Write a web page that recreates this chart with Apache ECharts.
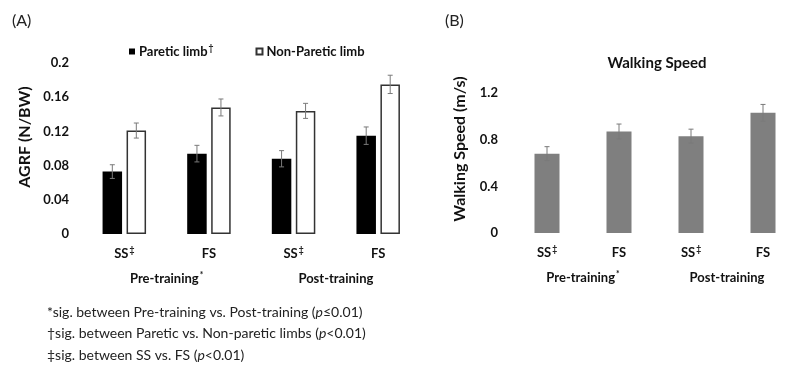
<!DOCTYPE html>
<html>
<head>
<meta charset="utf-8">
<script src="https://cdn.jsdelivr.net/npm/echarts@6/dist/echarts.min.js"></script>
<style>html,body{margin:0;padding:0;background:#fff}#c{width:799px;height:367px}</style>
</head>
<body>
<div id="c"></div>
<script>
// ---- data ----
var categories = ['SS', 'FS', 'SS', 'FS'];
var categoryMarks = ['‡', '', '‡', ''];
var groups = ['Pre-training', 'Post-training'];
var groupMarks = ['*', ''];
var pareticMean = [0.073, 0.094, 0.088, 0.115];
var pareticErr = [0.008, 0.0097, 0.0095, 0.0102];
var nonPareticMean = [0.121, 0.148, 0.144, 0.175];
var nonPareticErr = [0.0088, 0.0099, 0.0088, 0.0107];
var speedMean = [0.68, 0.87, 0.83, 1.03];
var speedErr = [0.06, 0.064, 0.06, 0.072];
var ticksA = [0, 0.04, 0.08, 0.12, 0.16, 0.2];
var ticksB = [0, 0.4, 0.8, 1.2];
var legendNames = ['Paretic limb', 'Non-Paretic limb'];
var legendMarks = ['†', ''];
var footnotes = [
  ['*sig. between Pre-training vs. Post-training (', 'p', '≤0.01)'],
  ['†sig. between Paretic vs. Non-paretic limbs (', 'p', '<0.01)'],
  ['‡sig. between SS vs. FS (', 'p', '<0.01)']
];

var FONT = 'Lato, "Open Sans", sans-serif';
var chart = echarts.init(document.getElementById('c'), null, {renderer: 'canvas'});

var supRich = {
  b: {fontFamily: FONT, fontWeight: 'bold', fontSize: 13, color: '#111', lineHeight: 15},
  s: {fontFamily: FONT, fontWeight: 'bold', fontSize: 8.5, color: '#111', lineHeight: 15, verticalAlign: 'top', padding: [0, 0, 6, 1]}
};
function catFmt(v, i) { return '{b|' + v + '}' + (categoryMarks[i] ? '{s|' + categoryMarks[i] + '}' : ''); }
function grpFmt(v, i) { return '{b|' + v + '}' + (groupMarks[i] ? '{s|' + groupMarks[i] + '}' : ''); }

function errItem(means, errs, offset) {
  return function (params, api) {
    var i = api.value(0);
    var m = means[i], e = errs[i];
    var hi = api.coord([i, m + e]);
    var lo = api.coord([i, m - e]);
    var x = hi[0] + offset;
    var cap = 2.5;
    var st = {stroke: '#7a7a7a', lineWidth: 1};
    return {type: 'group', children: [
      {type: 'line', shape: {x1: x, y1: hi[1], x2: x, y2: lo[1]}, style: st},
      {type: 'line', shape: {x1: x - cap, y1: hi[1], x2: x + cap, y2: hi[1]}, style: st},
      {type: 'line', shape: {x1: x - cap, y1: lo[1], x2: x + cap, y2: lo[1]}, style: st}
    ]};
  };
}
var idx = categories.map(function (_, i) { return i; });

function yAxisCfg(grid, max, interval, ticks) {
  return {
    type: 'value', gridIndex: grid, min: 0, max: max, interval: interval,
    axisLine: {show: false}, axisTick: {show: false}, splitLine: {show: false},
    axisLabel: {margin: 13, fontFamily: FONT, fontWeight: 'bold', fontSize: 13, color: '#111',
      formatter: function (v) { var best = ticks.reduce(function (a, t) { return Math.abs(t - v) < Math.abs(a - v) ? t : a; }, ticks[0]); return String(best); }}
  };
}
function catAxis(grid) {
  return {type: 'category', gridIndex: grid, data: categories,
    axisLine: {show: false}, axisTick: {show: false},
    axisLabel: {interval: 0, margin: 12, formatter: catFmt, rich: supRich}};
}
function grpAxis(grid) {
  return {type: 'category', gridIndex: grid, data: groups, position: 'bottom',
    axisLine: {show: false}, axisTick: {show: false},
    axisLabel: {interval: 0, margin: 37, formatter: grpFmt, rich: supRich}};
}

var graphics = [
  {type: 'text', x: 12, y: 13, style: {text: '(A)', font: '16px ' + FONT, fill: '#222'}},
  {type: 'text', x: 445, y: 13, style: {text: '(B)', font: '16px ' + FONT, fill: '#222'}},
  {type: 'text', x: 25, y: 137, rotation: Math.PI / 2, style: {text: 'AGRF (N/BW)', font: 'bold 16px ' + FONT, fill: '#111', align: 'center', verticalAlign: 'middle'}},
  {type: 'text', x: 460, y: 149, rotation: Math.PI / 2, style: {text: 'Walking Speed (m/s)', font: 'bold 16px ' + FONT, fill: '#111', align: 'center', verticalAlign: 'middle'}},
  {type: 'text', x: 657, y: 63, style: {text: 'Walking Speed', font: 'bold 15px ' + FONT, fill: '#111', align: 'center', verticalAlign: 'middle'}}
];
footnotes.forEach(function (f, k) {
  graphics.push({type: 'text', x: 47, y: 312 + k * 21.5, style: {
    text: '{n|' + f[0] + '}{i|' + f[1] + '}{n|' + f[2] + '}', verticalAlign: 'middle',
    rich: {n: {fontFamily: FONT, fontSize: 14, fill: '#222'}, i: {fontFamily: FONT, fontSize: 14, fontStyle: 'italic', fill: '#222'}}
  }});
});

chart.setOption({
  animation: false,
  backgroundColor: '#fff',
  grid: [
    {left: 82, right: 378.5, top: 63, bottom: 133},
    {left: 511, right: -31, top: 93, bottom: 134}
  ],
  legend: {
    left: 124, top: 39, itemWidth: 6, itemHeight: 6, itemGap: 42, icon: 'rect',
    data: legendNames,
    formatter: function (n) { var i = legendNames.indexOf(n); return '{b|' + n + '}' + (legendMarks[i] ? '{s|' + legendMarks[i] + '}' : ''); },
    textStyle: {rich: supRich, padding: [0, 0, 0, -1]}
  },
  xAxis: [catAxis(0), grpAxis(0), catAxis(1), grpAxis(1)],
  yAxis: [yAxisCfg(0, 0.2, 0.04, ticksA), yAxisCfg(1, 1.2, 0.4, ticksB)],
  graphic: graphics,
  series: [
    {name: legendNames[0], type: 'bar', xAxisIndex: 0, yAxisIndex: 0, data: pareticMean,
      barWidth: 19.5, barGap: '23%', itemStyle: {color: '#000', borderColor: '#000', borderWidth: 0}},
    {name: legendNames[1], type: 'bar', xAxisIndex: 0, yAxisIndex: 0, data: nonPareticMean,
      barWidth: 19.5, barGap: '23%', itemStyle: {color: '#fff', borderColor: '#333', borderWidth: 1.5}},
    {type: 'custom', xAxisIndex: 0, yAxisIndex: 0, data: idx, renderItem: errItem(pareticMean, pareticErr, -12), z: 5},
    {type: 'custom', xAxisIndex: 0, yAxisIndex: 0, data: idx, renderItem: errItem(nonPareticMean, nonPareticErr, 12), z: 5},
    {type: 'bar', xAxisIndex: 2, yAxisIndex: 1, data: speedMean, barWidth: 25, itemStyle: {color: '#7f7f7f'}},
    {type: 'custom', xAxisIndex: 2, yAxisIndex: 1, data: idx, renderItem: errItem(speedMean, speedErr, 0), z: 5}
  ]
});
</script>
</body>
</html>
